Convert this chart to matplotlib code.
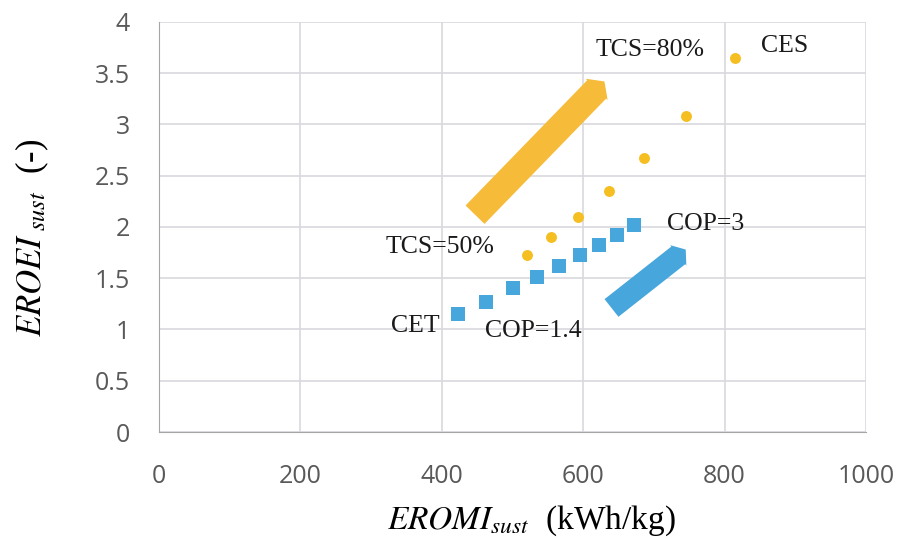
import matplotlib
matplotlib.use("Agg")
import matplotlib.pyplot as plt
from matplotlib.patches import FancyArrowPatch

# -------------
# Data
# -------------

# TCS series (yellow circles), from TCS=50% up to TCS=80%
ces_x = [521, 555, 593, 636, 686, 746, 815]
ces_y = [1.73, 1.90, 2.10, 2.35, 2.67, 3.08, 3.65]

# COP series (blue squares), from COP=1.4 up to COP=3
cet_x = [423, 462, 500, 534, 566, 595, 622, 648, 672]
cet_y = [1.15, 1.27, 1.40, 1.51, 1.62, 1.73, 1.82, 1.92, 2.02]

x_ticks = [0, 200, 400, 600, 800, 1000]
y_ticks = [0, 0.5, 1, 1.5, 2, 2.5, 3, 3.5, 4]
y_tick_labels = ["0", "0.5", "1", "1.5", "2", "2.5", "3", "3.5", "4"]

# annotation arrows (tail -> head, data coords)
yellow_arrow = ((447, 2.12), (630, 3.42))
blue_arrow = ((640, 1.21), (745, 1.78))

# text labels: (x, y, text)
notes = [
    (695, 3.73, "TCS=80%"),
    (885, 3.77, "CES"),
    (397, 1.80, "TCS=50%"),
    (773, 2.03, "COP=3"),
    (363, 1.03, "CET"),
    (530, 0.99, "COP=1.4"),
]

YELLOW = "#F5BF22"
YELLOW_ARROW = "#F6BB38"
BLUE = "#47A6DC"
GRID = "#D9D9DE"
TICK = "#595959"

plt.rcParams["mathtext.fontset"] = "stix"

fig = plt.figure(figsize=(9.02, 5.40), dpi=100)
ax = fig.add_axes([0.1763, 0.2, 0.7838, 0.7593])

ax.scatter(ces_x, ces_y, s=62, marker="o", color=YELLOW, zorder=3, linewidths=0)
ax.scatter(cet_x, cet_y, s=90, marker="s", color=BLUE, zorder=3, linewidths=0)

for (tail, head), color, mscale in [
    (yellow_arrow, YELLOW_ARROW, 20),
    (blue_arrow, BLUE, 17),
]:
    arr = FancyArrowPatch(
        tail, head,
        arrowstyle="simple,head_length=0.4,head_width=1.1,tail_width=0.95",
        mutation_scale=mscale, color=color, linewidth=0, zorder=2,
        shrinkA=0, shrinkB=0,
    )
    ax.add_patch(arr)

for x, y, s in notes:
    ax.text(x, y, s, ha="center", va="center", family="Liberation Serif",
            fontsize=18.5, color="#1a1a1a")

ax.set_xlim(0, 1000)
ax.set_ylim(0, 4)
ax.set_xticks(x_ticks)
ax.set_yticks(y_ticks)
ax.set_yticklabels(y_tick_labels)
ax.grid(True, color=GRID, linewidth=1.2)
ax.set_axisbelow(True)

for side in ["top", "right"]:
    ax.spines[side].set_visible(False)
ax.spines["left"].set_color("#A6A6A6")
ax.spines["bottom"].set_color("#A6A6A6")

ax.tick_params(axis="both", length=0, labelsize=18, labelcolor=TICK)
ax.tick_params(axis="x", pad=23)
ax.tick_params(axis="y", pad=21)
for lbl in ax.get_xticklabels() + ax.get_yticklabels():
    lbl.set_family("Open Sans")

ax.set_xlabel(r"$\mathit{EROMI}_{\mathit{sust}}$  (kWh/kg)",
              family="Liberation Serif", fontsize=24)
ax.xaxis.set_label_coords(0.526, -0.237)
ax.xaxis.label.set_va("baseline")
ax.set_ylabel(r"$\mathit{EROEI}_{\ \mathit{sust}}$  (-)",
              family="Liberation Serif", fontsize=25)
ax.yaxis.set_label_coords(-0.153, 0.473)

fig.savefig("out.png", dpi=100)
